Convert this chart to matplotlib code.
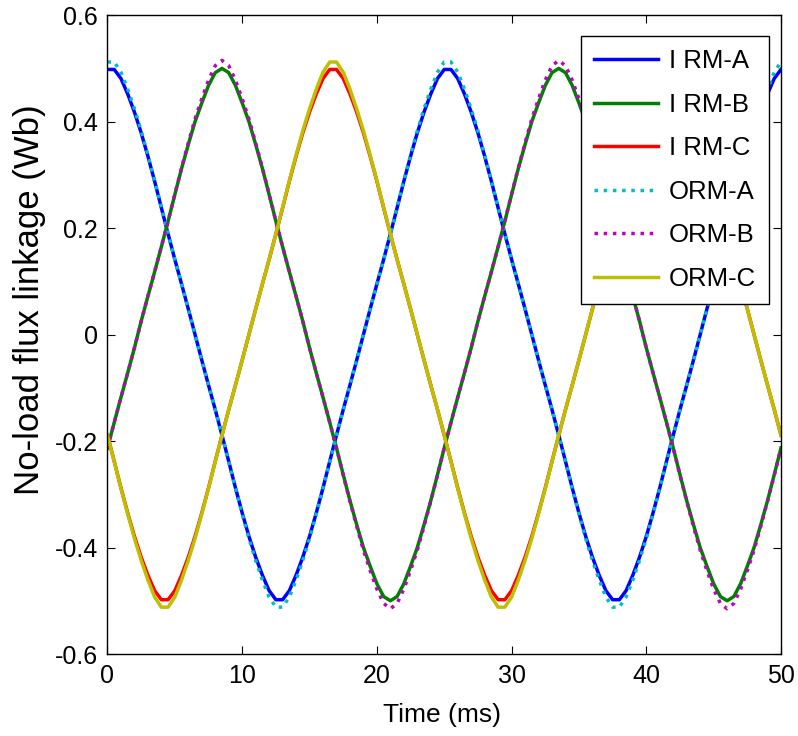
import numpy as np
import matplotlib
matplotlib.use('Agg')
import matplotlib.pyplot as plt

plt.rcParams['font.family'] = ['Liberation Sans', 'DejaVu Sans']
plt.rcParams['axes.unicode_minus'] = False

# time axis, 0.5 ms steps
time_ms = np.linspace(0, 50, 101)

# inner rotor machine, phases A/B/C (Wb)
irm_a = [0.498, 0.498, 0.481, 0.452, 0.418, 0.379, 0.335, 0.288, 0.238, 0.189,
         0.141, 0.095, 0.048, 0.000, -0.048, -0.095, -0.141, -0.189, -0.238, -0.288,
         -0.335, -0.379, -0.418, -0.452, -0.481, -0.498, -0.498, -0.481, -0.452, -0.418,
         -0.379, -0.335, -0.288, -0.238, -0.189, -0.141, -0.095, -0.048, 0.000, 0.048,
         0.095, 0.141, 0.189, 0.238, 0.288, 0.335, 0.379, 0.418, 0.452, 0.481,
         0.498, 0.498, 0.481, 0.452, 0.418, 0.379, 0.335, 0.288, 0.238, 0.189,
         0.141, 0.095, 0.048, 0.000, -0.048, -0.095, -0.141, -0.189, -0.238, -0.288,
         -0.335, -0.379, -0.418, -0.452, -0.481, -0.498, -0.498, -0.481, -0.452, -0.418,
         -0.379, -0.335, -0.288, -0.238, -0.189, -0.141, -0.095, -0.048, 0.000, 0.048,
         0.095, 0.141, 0.189, 0.238, 0.288, 0.335, 0.379, 0.418, 0.452, 0.481,
         0.498]
irm_b = [-0.213, -0.165, -0.118, -0.072, -0.025, 0.025, 0.072, 0.118, 0.165, 0.213,
         0.263, 0.312, 0.357, 0.400, 0.435, 0.468, 0.492, 0.500, 0.492, 0.468,
         0.435, 0.400, 0.357, 0.312, 0.263, 0.213, 0.165, 0.118, 0.072, 0.025,
         -0.025, -0.072, -0.118, -0.165, -0.213, -0.263, -0.312, -0.357, -0.400, -0.435,
         -0.468, -0.492, -0.500, -0.492, -0.468, -0.435, -0.400, -0.357, -0.312, -0.263,
         -0.213, -0.165, -0.118, -0.072, -0.025, 0.025, 0.072, 0.118, 0.165, 0.213,
         0.263, 0.312, 0.357, 0.400, 0.435, 0.468, 0.492, 0.500, 0.492, 0.468,
         0.435, 0.400, 0.357, 0.312, 0.263, 0.213, 0.165, 0.118, 0.072, 0.025,
         -0.025, -0.072, -0.118, -0.165, -0.213, -0.263, -0.312, -0.357, -0.400, -0.435,
         -0.468, -0.492, -0.500, -0.492, -0.468, -0.435, -0.400, -0.357, -0.312, -0.263,
         -0.213]
irm_c = [-0.189, -0.238, -0.288, -0.335, -0.379, -0.418, -0.452, -0.481, -0.498, -0.498,
         -0.481, -0.452, -0.418, -0.379, -0.335, -0.288, -0.238, -0.189, -0.141, -0.095,
         -0.048, 0.000, 0.048, 0.095, 0.141, 0.189, 0.238, 0.288, 0.335, 0.379,
         0.418, 0.452, 0.481, 0.498, 0.498, 0.481, 0.452, 0.418, 0.379, 0.335,
         0.288, 0.238, 0.189, 0.141, 0.095, 0.048, 0.000, -0.048, -0.095, -0.141,
         -0.189, -0.238, -0.288, -0.335, -0.379, -0.418, -0.452, -0.481, -0.498, -0.498,
         -0.481, -0.452, -0.418, -0.379, -0.335, -0.288, -0.238, -0.189, -0.141, -0.095,
         -0.048, 0.000, 0.048, 0.095, 0.141, 0.189, 0.238, 0.288, 0.335, 0.379,
         0.418, 0.452, 0.481, 0.498, 0.498, 0.481, 0.452, 0.418, 0.379, 0.335,
         0.288, 0.238, 0.189, 0.141, 0.095, 0.048, 0.000, -0.048, -0.095, -0.141,
         -0.189]

# outer rotor machine, phases A/B/C (Wb)
orm_a = [0.512, 0.512, 0.493, 0.461, 0.424, 0.383, 0.337, 0.289, 0.239, 0.189,
         0.141, 0.095, 0.048, 0.000, -0.048, -0.095, -0.141, -0.189, -0.239, -0.289,
         -0.337, -0.383, -0.424, -0.461, -0.493, -0.512, -0.512, -0.493, -0.461, -0.424,
         -0.383, -0.337, -0.289, -0.239, -0.189, -0.141, -0.095, -0.048, 0.000, 0.048,
         0.095, 0.141, 0.189, 0.239, 0.289, 0.337, 0.383, 0.424, 0.461, 0.493,
         0.512, 0.512, 0.493, 0.461, 0.424, 0.383, 0.337, 0.289, 0.239, 0.189,
         0.141, 0.095, 0.048, 0.000, -0.048, -0.095, -0.141, -0.189, -0.239, -0.289,
         -0.337, -0.383, -0.424, -0.461, -0.493, -0.512, -0.512, -0.493, -0.461, -0.424,
         -0.383, -0.337, -0.289, -0.239, -0.189, -0.141, -0.095, -0.048, 0.000, 0.048,
         0.095, 0.141, 0.189, 0.239, 0.289, 0.337, 0.383, 0.424, 0.461, 0.493,
         0.512]
orm_b = [-0.213, -0.165, -0.118, -0.072, -0.025, 0.025, 0.072, 0.118, 0.165, 0.213,
         0.264, 0.313, 0.360, 0.405, 0.443, 0.478, 0.505, 0.515, 0.505, 0.478,
         0.443, 0.405, 0.360, 0.313, 0.264, 0.213, 0.165, 0.118, 0.072, 0.025,
         -0.025, -0.072, -0.118, -0.165, -0.213, -0.264, -0.313, -0.360, -0.405, -0.443,
         -0.478, -0.505, -0.515, -0.505, -0.478, -0.443, -0.405, -0.360, -0.313, -0.264,
         -0.213, -0.165, -0.118, -0.072, -0.025, 0.025, 0.072, 0.118, 0.165, 0.213,
         0.264, 0.313, 0.360, 0.405, 0.443, 0.478, 0.505, 0.515, 0.505, 0.478,
         0.443, 0.405, 0.360, 0.313, 0.264, 0.213, 0.165, 0.118, 0.072, 0.025,
         -0.025, -0.072, -0.118, -0.165, -0.213, -0.264, -0.313, -0.360, -0.405, -0.443,
         -0.478, -0.505, -0.515, -0.505, -0.478, -0.443, -0.405, -0.360, -0.313, -0.264,
         -0.213]
orm_c = [-0.189, -0.239, -0.289, -0.337, -0.383, -0.424, -0.461, -0.493, -0.512, -0.512,
         -0.493, -0.461, -0.424, -0.383, -0.337, -0.289, -0.239, -0.189, -0.141, -0.095,
         -0.048, 0.000, 0.048, 0.095, 0.141, 0.189, 0.239, 0.289, 0.337, 0.383,
         0.424, 0.461, 0.493, 0.512, 0.512, 0.493, 0.461, 0.424, 0.383, 0.337,
         0.289, 0.239, 0.189, 0.141, 0.095, 0.048, 0.000, -0.048, -0.095, -0.141,
         -0.189, -0.239, -0.289, -0.337, -0.383, -0.424, -0.461, -0.493, -0.512, -0.512,
         -0.493, -0.461, -0.424, -0.383, -0.337, -0.289, -0.239, -0.189, -0.141, -0.095,
         -0.048, 0.000, 0.048, 0.095, 0.141, 0.189, 0.239, 0.289, 0.337, 0.383,
         0.424, 0.461, 0.493, 0.512, 0.512, 0.493, 0.461, 0.424, 0.383, 0.337,
         0.289, 0.239, 0.189, 0.141, 0.095, 0.048, 0.000, -0.048, -0.095, -0.141,
         -0.189]

xticks = [0, 10, 20, 30, 40, 50]
yticks = [-0.6, -0.4, -0.2, 0, 0.2, 0.4, 0.6]
ytick_labels = ['-0.6', '-0.4', '-0.2', '0', '0.2', '0.4', '0.6']

fig = plt.figure(figsize=(7.98, 7.36), dpi=100)
ax = fig.add_axes([0.1347, 0.1114, 0.844, 0.868])

ax.plot(time_ms, irm_a, color='#0000ff', lw=2.5, label='I RM-A')
ax.plot(time_ms, irm_b, color='#008000', lw=2.5, label='I RM-B')
ax.plot(time_ms, irm_c, color='#ff0000', lw=2.5, label='I RM-C')
ax.plot(time_ms, orm_a, color='#00bfbf', lw=2.5, ls=':', label='ORM-A')
ax.plot(time_ms, orm_b, color='#bf00bf', lw=2.5, ls=':', label='ORM-B')
ax.plot(time_ms, orm_c, color='#bfbf00', lw=2.5, label='ORM-C')

ax.set_xlim(0, 50)
ax.set_ylim(-0.6, 0.6)
ax.set_xticks(xticks)
ax.set_xticklabels([str(v) for v in xticks])
ax.set_yticks(yticks)
ax.set_yticklabels(ytick_labels)
ax.tick_params(direction='in', top=True, right=True, length=6, width=0.8,
               labelsize=18)
ax.tick_params(axis='x', pad=7)
ax.tick_params(axis='y', pad=7)
for s in ax.spines.values():
    s.set_linewidth(1.0)

ax.set_xlabel('Time (ms)', fontsize=19)
ax.xaxis.set_label_coords(0.496, -0.0767)
ax.set_ylabel('No-load flux linkage (Wb)', fontsize=25)
ax.yaxis.set_label_coords(-0.091, 0.554)

leg = ax.legend(loc='upper right', bbox_to_anchor=(0.982, 0.967), borderaxespad=0,
                fontsize=18.5, handlelength=2.5, handletextpad=0.43,
                labelspacing=0.76, borderpad=0.5, fancybox=False,
                edgecolor='black', framealpha=1)
leg.get_frame().set_linewidth(1.0)

fig.savefig('out.png', dpi=100)
